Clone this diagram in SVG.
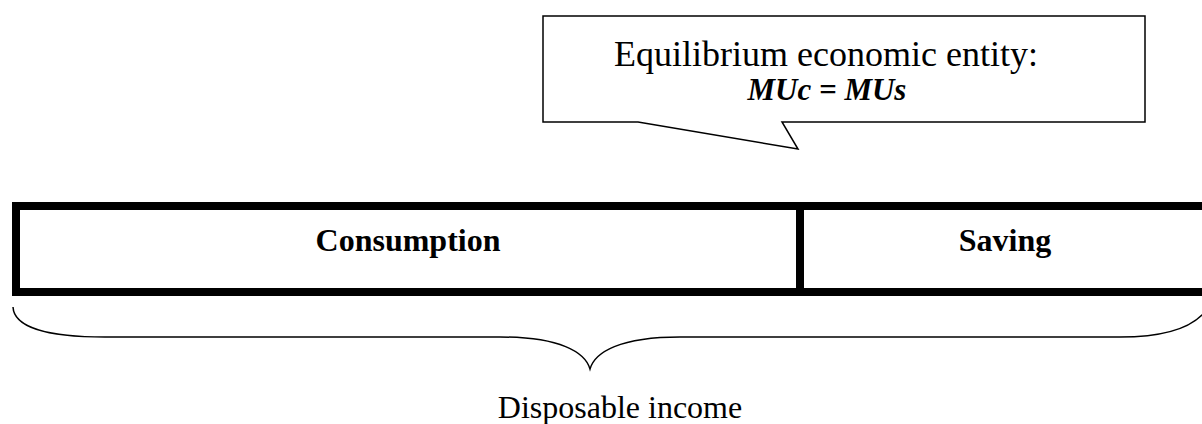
<svg xmlns="http://www.w3.org/2000/svg" width="1202" height="424" viewBox="0 0 1202 424">
<style>
.t{font-family:"Liberation Serif","Times New Roman",serif;fill:#000}
.b{font-weight:bold}
.thin{fill:none;stroke:#000;stroke-width:1.5}
.thick{fill:#fff;stroke:#000;stroke-width:8}
</style>
<rect width="1202" height="424" fill="#fff"/>
<g id="callout">
<path class="thin" d="M543,16 H1145 V122 H782 L798,149 L638,122 H543 Z" fill="#fff"/>
<text class="t" x="826" y="66" font-size="36" text-anchor="middle">Equilibrium economic entity:</text>
<text class="t b" x="827" y="100" font-size="31" font-style="italic" text-anchor="middle">MUc = MUs</text>
</g>
<g id="consumption">
<rect class="thick" x="16" y="206" width="784" height="86"/>
<text class="t b" x="408" y="251" font-size="32" text-anchor="middle">Consumption</text>
</g>
<g id="saving">
<rect class="thick" x="800" y="206" width="410" height="86"/>
<text class="t b" x="1005" y="251" font-size="32" text-anchor="middle">Saving</text>
</g>
<g id="connectors">
<path class="thin" d="M13,307 C14,328 50,337 105,337 L500,337 C560,337 585,352 590,369 C595,352 620,337 680,337 L1120,337 C1170,337 1202,325 1212,300"/>
</g>
<g id="income">
<text class="t" x="620" y="418" font-size="32" text-anchor="middle">Disposable income</text>
</g>
</svg>
